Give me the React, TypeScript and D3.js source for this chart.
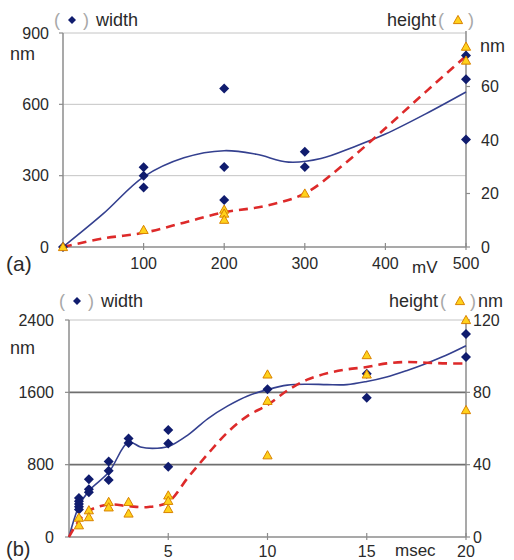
import React from 'react';
import * as d3 from 'd3';

// (a) width vs voltage: [mV, nm]
const aWidthPts: [number, number][] = [
  [0, 0], [100, 335], [100, 300], [100, 250], [200, 667], [200, 336], [200, 198],
  [300, 401], [300, 336], [500, 805], [500, 705], [500, 452],
];
// (a) height vs voltage: [mV, nm]
const aHeightPts: [number, number][] = [
  [0, 0], [100, 6.4], [200, 14], [200, 12.5], [200, 10.2], [300, 20], [500, 74.9], [500, 69.7],
];
// (a) trend curves
const aWidthFit: [number, number][] = [
  [0, 0], [50, 140], [100, 295], [150, 375], [200, 405], [240, 390], [280, 357],
  [320, 372], [360, 420], [400, 475], [450, 560], [500, 652],
];
const aHeightFit: [number, number][] = [
  [0, 0], [50, 3.2], [100, 5.3], [150, 9.1], [200, 13], [250, 15.3], [300, 20],
  [350, 31.3], [400, 44.4], [450, 58], [500, 71.4],
];
const aLeftTicks = [0, 300, 600, 900];
const aRightTicks = [0, 20, 40, 60];
const aXTicks = [100, 200, 300, 400, 500];

// (b) width vs pulse time: [msec, nm]
const bWidthPts: [number, number][] = [
  [0.5, 430], [0.5, 395], [0.5, 365], [0.5, 335], [0.5, 305],
  [1, 640], [1, 528], [1, 495], [2, 834], [2, 732], [2, 630],
  [3, 1090], [3, 1040], [5, 1183], [5, 1033], [5, 777],
  [10, 1634], [15, 1805], [15, 1540], [20, 2246], [20, 1990],
];
// (b) height vs pulse time: [msec, nm]
const bHeightPts: [number, number][] = [
  [0.5, 10.7], [0.5, 6.5], [1, 14.8], [1, 11], [2, 19.4], [2, 16.4], [3, 19.4], [3, 13],
  [5, 23], [5, 20], [5, 15.5], [10, 89.9], [10, 75.3], [10, 45.2],
  [15, 100.6], [15, 89.9], [20, 120], [20, 70.2],
];
const bWidthFit: [number, number][] = [
  [0, 0], [0.5, 340], [1, 510], [2, 715], [3, 1050], [3.6, 995], [4.2, 980], [5, 1000],
  [6, 1130], [7, 1310], [8, 1450], [9, 1560], [10, 1630], [11, 1680], [12, 1690],
  [13, 1685], [14, 1685], [15, 1720], [16, 1770], [17, 1840], [18, 1920], [19, 2010], [20, 2115],
];
const bHeightFit: [number, number][] = [
  [0, 0], [0.5, 9], [1, 14.5], [2, 18], [3, 17], [4, 16.6], [5, 19.4], [6, 33], [7, 46],
  [8, 58], [9, 67], [10, 73], [11, 81], [12, 87], [13, 90.5], [14, 92.7], [15, 94],
  [16, 96], [17, 96.8], [18, 96.4], [19, 96], [20, 96],
];
const bLeftTicks = [0, 800, 1600, 2400];
const bRightTicks = [0, 40, 80, 120];
const bXTicks = [5, 10, 15, 20];

const FONT = '"Liberation Sans", Arial, sans-serif';
const TXT = '#2a2a2a';
const PAREN = '#a8a8a8';
const AXIS = '#8c8c8c';
const NAVY = '#101c6e';
const BLUE_LINE = '#34408f';
const RED = '#dd2a2a';
const TRI_FILL = '#ffd21c';
const TRI_STROKE = '#d98200';

const diamond = 'M0,-5L5,0L0,5L-5,0Z';
const triangle = 'M0,-4.6L4.6,3.6L-4.6,3.6Z';

type PanelProps = {
  x0: number; x1: number; y0: number; y1: number;
  xMax: number; leftMax: number; rightMax: number;
  widthPts: [number, number][]; heightPts: [number, number][];
  widthFit: [number, number][]; heightFit: [number, number][];
  leftTicks: number[]; rightTicks: number[]; xTicks: number[];
  darkGrid: boolean;
  leftLabelX: number; rightLabelX: number;
  xLabelY: number;
};

const Panel = (p: PanelProps) => {
  const x = d3.scaleLinear().domain([0, p.xMax]).range([p.x0, p.x1]);
  const yL = d3.scaleLinear().domain([0, p.leftMax]).range([p.y1, p.y0]);
  const yR = d3.scaleLinear().domain([0, p.rightMax]).range([p.y1, p.y0]);
  const lineL = d3.line<[number, number]>().x(d => x(d[0])).y(d => yL(d[1])).curve(d3.curveCatmullRom.alpha(0.5));
  const lineR = d3.line<[number, number]>().x(d => x(d[0])).y(d => yR(d[1])).curve(d3.curveCatmullRom.alpha(0.5));

  return (
    <g>
      {/* gridlines */}
      {p.leftTicks.filter(t => t > 0).map(t => {
        const top = t === p.leftMax;
        const dark = p.darkGrid && !top;
        return (
          <line key={'g' + t} x1={p.x0} x2={p.x1} y1={yL(t)} y2={yL(t)}
            stroke={dark ? '#6f6f6f' : '#c4c4c4'} strokeWidth={dark ? 1.6 : 1} />
        );
      })}
      {/* axes */}
      <line x1={p.x0} x2={p.x0} y1={p.y0} y2={p.y1} stroke={AXIS} strokeWidth={1.5} />
      <line x1={p.x1} x2={p.x1} y1={p.y0 - 2} y2={p.y1} stroke={AXIS} strokeWidth={1.5} />
      <line x1={p.x0} x2={p.x1} y1={p.y1} y2={p.y1} stroke={AXIS} strokeWidth={1.5} />
      {p.leftTicks.map(t => (
        <line key={'lt' + t} x1={p.x0 - 4} x2={p.x0} y1={yL(t)} y2={yL(t)} stroke={AXIS} strokeWidth={1.2} />
      ))}
      {p.rightTicks.map(t => (
        <line key={'rt' + t} x1={p.x1} x2={p.x1 + 4} y1={yR(t)} y2={yR(t)} stroke={AXIS} strokeWidth={1.2} />
      ))}
      {p.xTicks.map(t => (
        <line key={'xt' + t} x1={x(t)} x2={x(t)} y1={p.y1 - 4} y2={p.y1 + 3} stroke={AXIS} strokeWidth={1.2} />
      ))}

      {/* tick labels */}
      {p.leftTicks.map(t => (
        <text key={'ll' + t} x={p.leftLabelX} y={yL(t)} dy="0.36em" textAnchor="end"
          fontSize={16} fill={TXT} fontFamily={FONT}>{t}</text>
      ))}
      {p.rightTicks.map(t => (
        <text key={'rl' + t} x={p.rightLabelX} y={yR(t)} dy="0.36em" textAnchor="start"
          fontSize={16} fill={TXT} fontFamily={FONT}>{t}</text>
      ))}
      {p.xTicks.map(t => (
        <text key={'xl' + t} x={x(t)} y={p.xLabelY} textAnchor="middle"
          fontSize={16} fill={TXT} fontFamily={FONT}>{t}</text>
      ))}

      {/* trend lines */}
      <path d={lineL(p.widthFit) || ''} fill="none" stroke={BLUE_LINE} strokeWidth={1.6} />
      <path d={lineR(p.heightFit) || ''} fill="none" stroke={RED} strokeWidth={2.6} strokeDasharray="9,6" />

      {/* points */}
      {p.widthPts.map((d, i) => (
        <path key={'w' + i} d={diamond} transform={`translate(${x(d[0])},${yL(d[1])})`} fill={NAVY} />
      ))}
      {p.heightPts.map((d, i) => (
        <path key={'h' + i} d={triangle} transform={`translate(${x(d[0])},${yR(d[1])})`}
          fill={TRI_FILL} stroke={TRI_STROKE} strokeWidth={1} />
      ))}
    </g>
  );
};

// "( ◆ ) width" on the left, "height( △ )" on the right
const Legend = ({ lx, rx, y, nm }: { lx: number; rx: number; y: number; nm: boolean }) => (
  <g fontFamily={FONT} fontSize={18}>
    <text x={lx} y={y} fill={PAREN}>(</text>
    <path d={'M0,-4L4,0L0,4L-4,0Z'} transform={`translate(${lx + 18},${y - 6})`} fill={NAVY} />
    <text x={lx + 29} y={y} fill={PAREN}>)</text>
    <text x={lx + 42} y={y} fill={TXT}>width</text>

    <text x={rx} y={y} fill={TXT}>height</text>
    <text x={rx + 51} y={y} fill={PAREN}>(</text>
    <path d={triangle} transform={`translate(${rx + 71},${y - 6})`} fill={TRI_FILL} stroke={TRI_STROKE} />
    <text x={rx + 81} y={y} fill={PAREN}>)</text>
    {nm && <text x={rx + 89} y={y} fill={TXT}>nm</text>}
  </g>
);

export default function App() {
  return (
    <svg width={514} height={560} style={{ position: 'absolute', left: 0, top: 0, background: '#fff' }}>
      {/* panel (a) */}
      <Panel x0={63} x1={466} y0={33} y1={247} xMax={500} leftMax={900} rightMax={80}
        widthPts={aWidthPts} heightPts={aHeightPts} widthFit={aWidthFit} heightFit={aHeightFit}
        leftTicks={aLeftTicks} rightTicks={aRightTicks} xTicks={aXTicks} darkGrid={false}
        leftLabelX={49} rightLabelX={481} xLabelY={269} />
      <Legend lx={54} rx={387} y={26} nm={false} />
      <text x={10} y={60} fontSize={18} fill={TXT} fontFamily={FONT}>nm</text>
      <text x={480} y={52} fontSize={18} fill={TXT} fontFamily={FONT}>nm</text>
      <text x={412} y={273} fontSize={17} fill={TXT} fontFamily={FONT}>mV</text>
      <text x={6} y={271} fontSize={21} fill={TXT} fontFamily={FONT}>(a)</text>

      {/* panel (b) */}
      <Panel x0={69} x1={466} y0={320} y1={537} xMax={20} leftMax={2400} rightMax={120}
        widthPts={bWidthPts} heightPts={bHeightPts} widthFit={bWidthFit} heightFit={bHeightFit}
        leftTicks={bLeftTicks} rightTicks={bRightTicks} xTicks={bXTicks} darkGrid={true}
        leftLabelX={54} rightLabelX={473} xLabelY={557} />
      <Legend lx={59} rx={389} y={307} nm={true} />
      <text x={10} y={354} fontSize={18} fill={TXT} fontFamily={FONT}>nm</text>
      <text x={395} y={556} fontSize={17} fill={TXT} fontFamily={FONT}>msec</text>
      <text x={6} y={556} fontSize={20} fill={TXT} fontFamily={FONT}>(b)</text>
    </svg>
  );
}
